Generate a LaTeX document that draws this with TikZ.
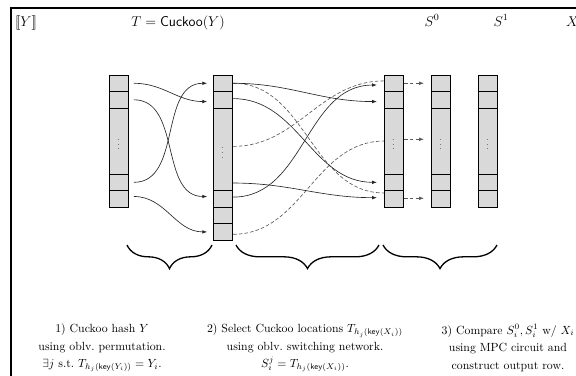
\documentclass[tikz,border=0pt]{standalone}
\usetikzlibrary{arrows.meta,decorations.pathreplacing,calc}
\begin{document}
\begin{tikzpicture}[x=0.847pt,y=-0.847pt,
  cell/.style={draw=black, fill=black!15, line width=0.7pt, inner sep=0pt, outer sep=0pt,
    minimum width=16.1pt, minimum height=14pt, anchor=north west, font=\scriptsize},
  bigA/.style={cell, minimum height=55.9pt},
  bigB/.style={cell, minimum height=69.9pt},
  conn/.style={line width=0.55pt, draw=black!85, -{Latex[length=4pt,width=3pt]}},
  dconn/.style={line width=0.55pt, draw=black!65, dash pattern=on 3pt off 1.8pt},
  darr/.style={dconn, -{Latex[length=4pt,width=3pt]}},
  curly/.style={decorate, decoration={brace, mirror, amplitude=20pt}, line width=1.1pt},
  toplbl/.style={anchor=base, font=\large, inner sep=0pt},
  step text/.style={align=center, font=\fontsize{10}{14.8}\selectfont}
]
\useasboundingbox (0,0) rectangle (576,375);
% frame
\draw[line width=0.9pt] (11,380) -- (11,8) -- (580,8);

% top labels
\node[toplbl] (ly) at (26,26) {$[\![Y]\!]$};
\node[toplbl] (lt) at (178,26) {$T = \mathsf{Cuckoo}(Y)$};
\node[toplbl] (ls0) at (432,26) {$S^0$};
\node[toplbl] (ls1) at (501,26) {$S^1$};
\node[toplbl, anchor=base west] (lx) at (566,26) {$X$};

% column A
\node[cell] (A1) at (109,75) {};
\node[cell] (A2) at (A1.south west) {};
\node[bigA] (A3) at (A2.south west) {$\vdots$};
\node[cell] (A4) at (A3.south west) {};
\node[cell] (A5) at (A4.south west) {};
% column B
\node[cell] (B1) at (213,75) {};
\node[cell] (B2) at (B1.south west) {};
\node[bigB] (B3) at (B2.south west) {$\vdots$};
\node[cell] (B4) at (B3.south west) {};
\node[cell] (B5) at (B4.south west) {};
\node[cell] (B6) at (B5.south west) {};
% column C
\node[cell] (C1) at (384,75) {};
\node[cell] (C2) at (C1.south west) {};
\node[bigA] (C3) at (C2.south west) {$\vdots$};
\node[cell] (C4) at (C3.south west) {};
\node[cell] (C5) at (C4.south west) {};
% column D
\node[cell] (D1) at (431,75) {};
\node[cell] (D2) at (D1.south west) {};
\node[bigA] (D3) at (D2.south west) {$\vdots$};
\node[cell] (D4) at (D3.south west) {};
\node[cell] (D5) at (D4.south west) {};
% column E
\node[cell] (E1) at (478,75) {};
\node[cell] (E2) at (E1.south west) {};
\node[bigA] (E3) at (E2.south west) {$\vdots$};
\node[cell] (E4) at (E3.south west) {};
\node[cell] (E5) at (E4.south west) {};

% A -> B
\draw[conn] ([xshift=5pt]A1.east) to[out=0,in=180] ([xshift=-5pt,yshift=-1.5pt]B2.west);
\draw[conn] ([xshift=5pt]A2.east) to[out=0,in=180] ([xshift=-5pt,yshift=2pt]B4.west);
\draw[conn] ([xshift=5pt]A4.east) to[out=0,in=180] ([xshift=-5pt]B1.west);
\draw[conn] ([xshift=5pt,yshift=2pt]A5.east) to[out=0,in=180] ([xshift=-5pt]B6.west);

% B -> C
\draw[dconn] ([xshift=1pt]B1.east) to[out=0,in=180] ([yshift=5pt]C5.west);
\draw[dconn] ([xshift=1pt,yshift=2.5pt]B3.east) to[out=0,in=180] ([yshift=2pt]C1.west);
\draw[dconn] ([xshift=1pt,yshift=-2pt]B6.east) to[out=0,in=180] (C3.west);
\draw[conn] ([xshift=1pt]B1.east) to[out=0,in=180] ([xshift=-6pt,yshift=-1.5pt]C2.west);
\draw[conn] ([xshift=1pt,yshift=1pt]B2.east) to[out=0,in=180] ([xshift=-6pt]C4.west);
\draw[conn] ([xshift=1pt,yshift=1.5pt]B4.east) to[out=0,in=180] ([xshift=-6pt,yshift=-1.5pt]C1.west);
\draw[conn] ([xshift=1pt,yshift=6.4pt]B3.south east) to[out=0,in=180] ([xshift=-6pt,yshift=1pt]C5.west);

% C -> D
\draw[darr] ([xshift=1pt]C1.east) -- ([xshift=-6pt]D1.west);
\draw[darr] ([xshift=1pt,yshift=1.5pt]C3.east) -- ([xshift=-6pt,yshift=1.5pt]D3.west);
\draw[darr] ([xshift=1pt,yshift=0.5pt]C5.east) -- ([xshift=-6pt,yshift=0.5pt]D5.west);

% braces
\coordinate (br1a) at (127,245);
\coordinate (br1b) at (212,245);
\coordinate (br2a) at (236,245);
\coordinate (br2b) at (379,245);
\coordinate (br3a) at (383,245);
\coordinate (br3b) at (497,245);
\draw[curly] (br1a) -- (br1b);
\draw[curly] (br2a) -- (br2b);
\draw[curly] (br3a) -- (br3b);

% step texts
\node[step text] (t1) at (102,348) {1) Cuckoo hash $Y$\\ using oblv.\ permutation.\\ $\exists j$ s.t.\ $T_{h_j(\mathsf{key}(Y_i))} = Y_i$.};
\node[step text] (t2) at (305,348) {2) Select Cuckoo locations $T_{h_j(\mathsf{key}(X_i))}$\\ using oblv.\ switching network.\\ $S_i^j = T_{h_j(\mathsf{key}(X_i))}$.};
\node[step text] (t3) at (508,348) {3) Compare $S_i^0, S_i^1$ w/ $X_i$\\ using MPC circuit and\\ construct output row.};
\end{tikzpicture}
\end{document}
